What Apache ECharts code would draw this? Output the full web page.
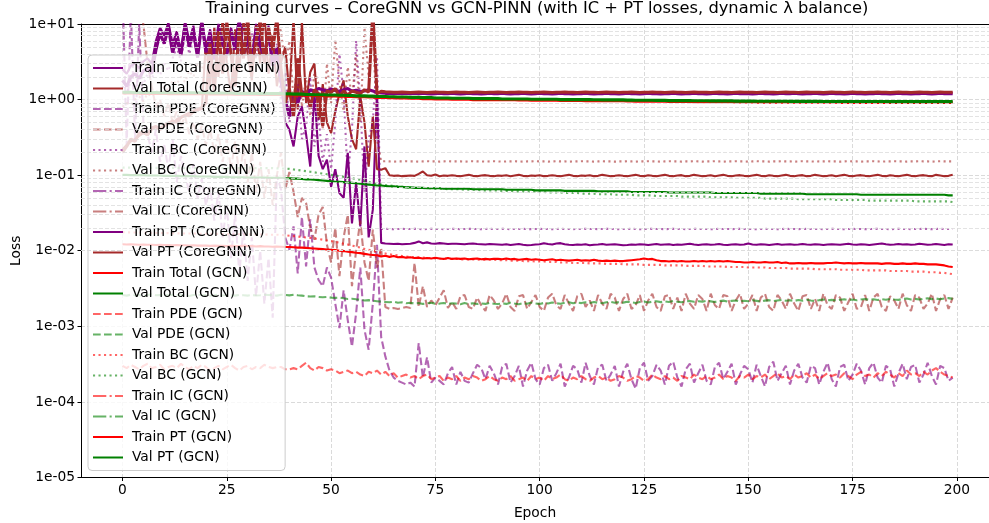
<!DOCTYPE html>
<html><head><meta charset="utf-8">
<script src="https://cdn.jsdelivr.net/npm/echarts@6/dist/echarts.min.js"></script>
<style>html,body{margin:0;padding:0;background:#fff}#c{width:989px;height:523px}</style>
</head><body><div id="c"></div>
<script>
const epochs = Array.from({length:200},(_,i)=>i);
const xTicks = [0,25,50,75,100,125,150,175,200];
const yTickLabels = ['1e-05','1e-04','1e-03','1e-02','1e-01','1e+00','1e+01'];

const trainTotalCore = [
2.5,2.2,2.8,3.0,2.6,3.2,3.5,3.0,6.0,9.0,
7.0,10.5,5.5,8.0,4.5,11.0,6.0,9.5,4.0,12.0,
5.0,8.5,3.8,10.0,6.5,4.2,9.0,5.5,13.0,4.5,
8.0,3.5,10.0,6.0,4.0,9.5,3.2,5.0,1.7,0.5,
0.4,0.24,0.6,0.81,0.35,0.13,1.27,0.18,0.12,0.16,
0.07,0.12,0.058,0.05,0.2,0.023,0.08,0.021,0.24,0.015,
0.035,1.27,0.0127,0.0125,0.0124,0.0123,0.0124,0.0122,0.0123,0.0124,
0.0127,0.0133,0.0126,0.0129,0.0125,0.0124,0.0126,0.0125,0.0123,0.0124,
0.0124,0.0123,0.0122,0.0124,0.0125,0.0123,0.0122,0.0121,0.0123,0.0122,
0.0121,0.0120,0.0122,0.0119,0.0121,0.0123,0.0120,0.0118,0.0119,0.0121,
0.0122,0.0126,0.0123,0.0121,0.0125,0.0126,0.0122,0.0120,0.0119,0.0121,
0.0120,0.0122,0.0118,0.0120,0.0121,0.0123,0.0120,0.0121,0.0122,0.0120,
0.0118,0.0119,0.0121,0.0120,0.0122,0.0121,0.0119,0.0121,0.0123,0.0120,
0.0121,0.0122,0.0119,0.0121,0.0120,0.0122,0.0124,0.0121,0.0119,0.0121,
0.0122,0.0120,0.0121,0.0123,0.0120,0.0119,0.0121,0.0122,0.0120,0.0121,
0.0125,0.0121,0.0120,0.0122,0.0121,0.0119,0.0121,0.0123,0.0120,0.0121,
0.0122,0.0120,0.0121,0.0123,0.0121,0.0120,0.0122,0.0121,0.0119,0.0121,
0.0122,0.0121,0.0120,0.0122,0.0124,0.0121,0.0120,0.0122,0.0121,0.0119,
0.0121,0.0123,0.0125,0.0122,0.0120,0.0121,0.0123,0.0121,0.0122,0.0120,
0.0121,0.0124,0.0122,0.0120,0.0121,0.0123,0.0121,0.0119,0.0122,0.0121];

const valTotalCore = [
0.22,0.25,0.28,0.3,0.33,0.36,0.34,0.4,0.44,0.42,
0.46,0.5,0.48,0.55,0.58,0.62,0.6,0.68,0.72,0.75,
6.0,1.5,9.0,2.0,12.0,3.0,1.2,8.5,2.5,11.0,
4.0,1.8,9.5,3.0,14.0,2.2,7.0,1.5,3.1,5.0,
1.2,12.0,0.74,11.0,0.9,2.3,3.0,0.54,1.6,0.5,
0.36,0.7,1.2,1.8,0.6,0.3,0.22,1.1,0.5,0.13,
0.6,0.12,0.118,0.124,0.100,0.098,0.099,0.097,0.098,0.099,
0.098,0.104,0.112,0.100,0.098,0.102,0.097,0.099,0.098,0.100,
0.098,0.097,0.099,0.101,0.098,0.097,0.099,0.100,0.098,0.097,
0.099,0.098,0.100,0.097,0.099,0.101,0.098,0.097,0.099,0.098,
0.100,0.097,0.098,0.100,0.098,0.097,0.099,0.101,0.098,0.097,
0.099,0.098,0.100,0.097,0.098,0.101,0.099,0.097,0.098,0.100,
0.098,0.097,0.099,0.101,0.098,0.097,0.100,0.098,0.097,0.099,
0.101,0.098,0.097,0.099,0.100,0.097,0.098,0.101,0.099,0.097,
0.098,0.100,0.097,0.099,0.101,0.098,0.097,0.099,0.100,0.098,
0.097,0.099,0.101,0.098,0.097,0.100,0.098,0.097,0.099,0.101,
0.098,0.097,0.099,0.100,0.097,0.098,0.101,0.099,0.097,0.098,
0.100,0.097,0.099,0.101,0.098,0.097,0.099,0.100,0.098,0.097,
0.099,0.101,0.098,0.097,0.100,0.098,0.097,0.099,0.101,0.098,
0.097,0.099,0.100,0.098,0.097,0.101,0.099,0.097,0.098,0.101];

const trainPDECore = [
30,0.25,15,0.3,10,0.5,0.35,0.2,0.4,0.15,
0.25,0.12,0.3,0.08,0.18,0.1,0.06,0.14,0.05,0.09,
0.04,0.07,0.025,0.06,0.015,0.04,0.008,0.03,0.005,0.02,
0.004,0.015,0.0025,0.01,0.002,0.008,0.0013,0.1,0.064,0.015,
0.0103,0.021,0.005,0.028,0.0062,0.026,0.006,0.0041,0.0034,0.006,
4.4e-3,2e-3,9.5e-4,3e-3,1.2e-3,5.4e-4,1.5e-3,6e-3,9e-4,4.9e-4,
2e-3,0.012,7.2e-4,4e-4,2.6e-4,2.1e-4,1.9e-4,1.8e-4,1.7e-4,1.8e-4,
1.6e-4,6e-4,2.1e-4,3.9e-4,1.8e-4,2.1e-4,1.9e-4,1.7e-4,2.4e-4,2.9e-4,
1.7e-4,2.5e-4,1.9e-4,1.8e-4,2.4e-4,3.1e-4,2.8e-4,2e-4,3e-4,2.4e-4,
1.7e-4,2.9e-4,3.2e-4,1.8e-4,2.2e-4,3e-4,1.6e-4,2.6e-4,3.3e-4,2e-4,
1.7e-4,2.8e-4,3.1e-4,1.9e-4,2.4e-4,3.2e-4,1.6e-4,2.1e-4,3e-4,2.7e-4,
1.8e-4,3.3e-4,2.2e-4,1.7e-4,2.9e-4,3.1e-4,1.9e-4,2.3e-4,3e-4,1.6e-4,
2.5e-4,3.2e-4,2e-4,1.5e-4,2.8e-4,3.3e-4,1.9e-4,2.2e-4,3.1e-4,2.6e-4,
1.7e-4,3e-4,3.4e-4,2.1e-4,1.6e-4,2.7e-4,3.2e-4,1.8e-4,2.4e-4,3.1e-4,
1.9e-4,1.7e-4,2.9e-4,3.3e-4,2e-4,2.5e-4,3.2e-4,1.7e-4,2.3e-4,3e-4,
2.7e-4,1.8e-4,3.1e-4,2.2e-4,1.6e-4,2.9e-4,3.4e-4,1.9e-4,2.4e-4,3e-4,
1.7e-4,2.6e-4,3.2e-4,2.1e-4,1.8e-4,3e-4,2.8e-4,1.7e-4,2.5e-4,3.3e-4,
2e-4,1.6e-4,2.9e-4,3.1e-4,1.9e-4,2.3e-4,3.2e-4,2.6e-4,1.7e-4,2.8e-4,
3.3e-4,2.1e-4,1.8e-4,3e-4,2.7e-4,1.6e-4,2.4e-4,3.2e-4,2e-4,2.9e-4,
3.1e-4,1.8e-4,2.3e-4,3.3e-4,2.2e-4,1.7e-4,3e-4,2.8e-4,1.9e-4,2.1e-4];

const valPDECore = [
40,30,25,20,15,10,3.0,1.5,0.8,1.0,
0.6,0.9,0.5,0.7,0.45,0.6,0.35,0.5,0.3,0.45,
0.25,0.4,0.2,0.35,0.15,0.3,0.12,0.28,0.1,0.22,
0.08,0.2,0.06,0.15,0.05,0.12,0.04,0.1,0.2,0.064,
0.11,0.06,0.028,0.05,0.043,0.02,0.014,0.03,0.038,0.012,
0.007,0.02,0.0046,0.015,0.03,0.0034,0.01,0.025,0.007,0.004,
0.019,0.006,0.011,1.8e-3,1.7e-3,1.75e-3,1.7e-3,1.75e-3,1.8e-3,1.75e-3,
6.9e-3,1.8e-3,3.4e-3,1.8e-3,2.2e-3,1.9e-3,2.4e-3,3e-3,1.75e-3,2.1e-3,
1.7e-3,2.5e-3,2.6e-3,1.8e-3,1.7e-3,2.4e-3,1.9e-3,1.6e-3,2.6e-3,2.2e-3,
1.7e-3,2e-3,2.7e-3,1.8e-3,1.6e-3,2.5e-3,2.6e-3,1.7e-3,2.1e-3,2.6e-3,
1.8e-3,1.6e-3,2.4e-3,2.7e-3,1.9e-3,1.7e-3,2.6e-3,2e-3,1.6e-3,2.5e-3,
2.7e-3,1.8e-3,2.2e-3,1.6e-3,2.6e-3,2e-3,1.7e-3,2.7e-3,2.4e-3,1.6e-3,
2.3e-3,2.7e-3,1.7e-3,1.9e-3,2.6e-3,1.6e-3,2.2e-3,2.7e-3,1.8e-3,1.6e-3,
2.5e-3,2.6e-3,1.7e-3,2.4e-3,1.6e-3,2.7e-3,2e-3,1.7e-3,2.6e-3,2.3e-3,
1.6e-3,2.7e-3,1.9e-3,1.7e-3,2.6e-3,2.5e-3,1.6e-3,2.2e-3,2.7e-3,1.7e-3,
2e-3,2.6e-3,1.6e-3,2.4e-3,2.7e-3,1.8e-3,1.6e-3,2.6e-3,2.2e-3,1.7e-3,
2.7e-3,2e-3,1.6e-3,2.5e-3,2.6e-3,1.7e-3,2.3e-3,1.6e-3,2.7e-3,1.9e-3,
1.7e-3,2.6e-3,2.4e-3,1.6e-3,2.1e-3,2.7e-3,1.7e-3,1.8e-3,2.6e-3,1.6e-3,
2.4e-3,2.7e-3,1.8e-3,1.6e-3,2.5e-3,2.2e-3,1.7e-3,2.7e-3,1.9e-3,1.6e-3,
2.6e-3,2.4e-3,1.7e-3,2e-3,2.7e-3,1.6e-3,2.3e-3,2.6e-3,1.7e-3,2.4e-3];

const trainBCCore = [
1.5,1.2,1.8,1.4,2.0,1.6,2.2,1.9,2.5,2.1,
3.0,2.4,3.5,5.0,3.2,8.0,4.0,6.5,3.5,9.0,
4.5,7.0,3.6,8.5,4.8,10.0,4.2,6.8,3.8,9.5,
5.0,7.5,3.5,9.0,4.5,6.0,3.0,5.5,0.9,2.3,
0.5,0.74,1.6,0.3,0.44,2.0,0.24,0.6,0.15,0.35,
0.12,0.5,4.0,1.2,0.09,0.4,6.0,0.9,0.06,0.3,
0.5,3.7,0.0194,0.0195,0.0194,0.0193,0.0194,0.0195,0.0194,0.0194,
0.0195,0.0194,0.0193,0.0194,0.0195,0.0194,0.0194,0.0193,0.0194,0.0195,
0.0194,0.0193,0.0194,0.0195,0.0194,0.0194,0.0193,0.0194,0.0195,0.0194,
0.0194,0.0195,0.0194,0.0193,0.0194,0.0194,0.0195,0.0194,0.0193,0.0194,
0.0195,0.0194,0.0194,0.0193,0.0194,0.0195,0.0194,0.0194,0.0193,0.0194,
0.0194,0.0195,0.0194,0.0194,0.0193,0.0194,0.0195,0.0194,0.0194,0.0193,
0.0194,0.0194,0.0195,0.0194,0.0193,0.0194,0.0194,0.0195,0.0194,0.0194,
0.0193,0.0194,0.0195,0.0194,0.0194,0.0193,0.0194,0.0195,0.0194,0.0194,
0.0194,0.0193,0.0194,0.0195,0.0194,0.0194,0.0193,0.0194,0.0195,0.0194,
0.0194,0.0194,0.0193,0.0194,0.0195,0.0194,0.0194,0.0193,0.0194,0.0195,
0.0194,0.0194,0.0193,0.0194,0.0195,0.0194,0.0194,0.0194,0.0193,0.0194,
0.0195,0.0194,0.0194,0.0193,0.0194,0.0195,0.0194,0.0194,0.0193,0.0194,
0.0194,0.0195,0.0194,0.0194,0.0193,0.0194,0.0195,0.0194,0.0194,0.0193,
0.0194,0.0194,0.0195,0.0194,0.0193,0.0194,0.0195,0.0194,0.0194,0.0194];

const valBCCore = [
0.8,0.9,0.85,1.0,1.1,0.95,1.2,1.1,1.3,1.2,
1.5,1.3,1.8,1.6,2.0,1.7,2.4,2.0,3.0,2.5,
3.5,2.8,5.0,3.2,6.0,3.5,8.0,4.0,9.5,5.0,
4.0,7.0,3.5,6.5,3.0,8.5,4.5,11.0,8.0,2.7,
6.0,1.0,3.5,0.8,2.0,0.6,2.4,1.6,0.4,3.0,
0.9,6.2,1.7,0.7,2.7,1.0,4.0,0.5,9.0,2.0,
12.0,0.3,0.152,0.153,0.152,0.151,0.152,0.152,0.153,0.152,
0.152,0.151,0.152,0.153,0.152,0.152,0.151,0.152,0.153,0.152,
0.152,0.152,0.151,0.152,0.153,0.152,0.152,0.151,0.152,0.153,
0.152,0.151,0.152,0.152,0.153,0.152,0.151,0.152,0.152,0.153,
0.152,0.152,0.151,0.152,0.153,0.152,0.152,0.151,0.152,0.152,
0.153,0.152,0.152,0.151,0.152,0.153,0.152,0.152,0.151,0.152,
0.152,0.153,0.152,0.151,0.152,0.152,0.153,0.152,0.152,0.151,
0.152,0.153,0.152,0.152,0.151,0.152,0.152,0.153,0.152,0.151,
0.152,0.152,0.153,0.152,0.151,0.152,0.152,0.153,0.152,0.152,
0.151,0.152,0.153,0.152,0.152,0.151,0.152,0.152,0.153,0.152,
0.152,0.151,0.152,0.153,0.152,0.152,0.151,0.152,0.152,0.153,
0.152,0.152,0.151,0.152,0.153,0.152,0.152,0.151,0.152,0.152,
0.153,0.152,0.151,0.152,0.152,0.153,0.152,0.152,0.151,0.152,
0.152,0.153,0.152,0.152,0.151,0.152,0.153,0.152,0.152,0.152];

const trainICCore = [];
const valICCore = [];

const trainPTCore = [
1.8,1.5,2.0,2.2,1.9,2.4,2.6,2.2,4.5,7.5,
5.5,9.0,4.2,6.5,3.8,9.5,5.0,8.0,3.6,10.5,
4.2,7.0,3.4,8.5,5.5,3.9,7.5,4.6,11.0,3.8,
6.8,3.2,8.5,5.2,3.5,8.0,2.8,4.2,1.7,1.0,
0.6,1.2,0.9,1.3,1.1,1.35,1.3,1.4,1.35,1.3,
1.38,1.32,1.28,1.35,1.4,1.3,1.33,1.28,1.3,1.35,
1.3,1.25,1.22,1.21,1.21,1.2,1.21,1.2,1.21,1.2,
1.21,1.20,1.21,1.20,1.19,1.20,1.21,1.20,1.20,1.21,
1.20,1.19,1.20,1.21,1.20,1.20,1.19,1.20,1.21,1.20,
1.20,1.21,1.20,1.19,1.20,1.20,1.21,1.20,1.19,1.20,
1.21,1.20,1.20,1.19,1.20,1.21,1.20,1.20,1.19,1.20,
1.20,1.21,1.20,1.19,1.20,1.20,1.21,1.20,1.20,1.19,
1.20,1.21,1.20,1.20,1.19,1.20,1.21,1.20,1.20,1.19,
1.20,1.20,1.21,1.20,1.19,1.20,1.20,1.21,1.20,1.20,
1.19,1.20,1.21,1.20,1.20,1.19,1.20,1.21,1.20,1.20,
1.20,1.19,1.20,1.21,1.20,1.20,1.19,1.20,1.21,1.20,
1.20,1.21,1.20,1.19,1.20,1.20,1.21,1.20,1.19,1.20,
1.21,1.20,1.20,1.19,1.20,1.21,1.20,1.20,1.19,1.20,
1.20,1.21,1.20,1.20,1.19,1.20,1.21,1.20,1.20,1.19,
1.20,1.20,1.21,1.20,1.19,1.20,1.21,1.20,1.20,1.20];

const valPTCore = [
0.2,0.24,0.3,0.28,0.36,0.37,0.34,0.42,0.44,0.4,
0.45,0.48,0.52,0.5,0.58,0.62,0.66,0.7,0.74,0.78,
0.9,5.5,1.3,8.0,2.2,10.5,4.0,1.5,9.0,3.5,
12.0,2.5,6.0,11.0,3.0,9.0,4.5,12.0,2.5,0.9,
1.4,0.6,3.5,1.1,1.3,0.8,1.35,1.2,0.45,1.3,
1.25,1.4,1.1,1.3,1.15,1.3,1.25,1.2,1.35,1.25,
15.0,1.2,1.29,1.27,1.26,1.25,1.25,1.26,1.25,1.24,
1.25,1.26,1.25,1.24,1.25,1.26,1.25,1.25,1.24,1.25,
1.26,1.25,1.25,1.24,1.25,1.26,1.25,1.24,1.25,1.25,
1.26,1.25,1.24,1.25,1.25,1.26,1.25,1.25,1.24,1.25,
1.25,1.26,1.25,1.24,1.25,1.25,1.26,1.25,1.25,1.24,
1.25,1.26,1.25,1.25,1.24,1.25,1.26,1.25,1.25,1.24,
1.25,1.25,1.26,1.25,1.24,1.25,1.25,1.26,1.25,1.25,
1.24,1.25,1.26,1.25,1.25,1.24,1.25,1.26,1.25,1.25,
1.25,1.24,1.25,1.26,1.25,1.25,1.24,1.25,1.26,1.25,
1.25,1.25,1.24,1.25,1.26,1.25,1.25,1.24,1.25,1.26,
1.25,1.25,1.24,1.25,1.26,1.25,1.25,1.25,1.24,1.25,
1.26,1.25,1.25,1.24,1.25,1.26,1.25,1.25,1.24,1.25,
1.25,1.26,1.25,1.25,1.24,1.25,1.26,1.25,1.25,1.24,
1.25,1.26,1.25,1.25,1.24,1.25,1.26,1.25,1.25,1.25];

const trainTotalGCN = [
0.0122,0.0121,0.0122,0.0121,0.0120,0.0121,0.0120,0.0120,0.0119,0.0120,
0.0119,0.0119,0.0118,0.0119,0.0118,0.0118,0.0117,0.0118,0.0117,0.0117,
0.0117,0.0116,0.0117,0.0116,0.0116,0.0115,0.0116,0.0115,0.0115,0.0116,
0.0115,0.0115,0.0114,0.0115,0.0114,0.0114,0.0113,0.0114,0.0113,0.0112,
0.0112,0.0111,0.0110,0.0110,0.0109,0.0108,0.0107,0.0106,0.0105,0.0104,
0.0103,0.0102,0.0100,0.0099,0.0097,0.0096,0.0094,0.0093,0.0091,0.0089,
0.0088,0.0087,0.0084,0.0086,0.0083,0.0085,0.0082,0.0083,0.0081,0.0082,
0.0080,0.0081,0.0079,0.0080,0.0079,0.0081,0.0079,0.0078,0.0080,0.0078,
0.0079,0.0078,0.0079,0.0077,0.0078,0.0079,0.0077,0.0078,0.0077,0.0078,
0.0078,0.0077,0.0079,0.0077,0.0078,0.0076,0.0077,0.0078,0.0076,0.0077,
0.0076,0.0075,0.0076,0.0077,0.0075,0.0076,0.0075,0.0074,0.0075,0.0076,
0.0074,0.0075,0.0074,0.0076,0.0074,0.0073,0.0074,0.0073,0.0074,0.0073,
0.0073,0.0074,0.0075,0.0076,0.0077,0.0079,0.0077,0.0078,0.0075,0.0073,
0.0073,0.0072,0.0073,0.0072,0.0073,0.0072,0.0072,0.0073,0.0072,0.0073,
0.0072,0.0073,0.0072,0.0073,0.0072,0.0073,0.0072,0.0071,0.0071,0.0070,
0.0070,0.0071,0.0070,0.0070,0.0071,0.0070,0.0070,0.0071,0.0069,0.0070,
0.0068,0.0068,0.0069,0.0068,0.0068,0.0069,0.0068,0.0068,0.0068,0.0069,
0.0069,0.0070,0.0069,0.0068,0.0069,0.0068,0.0068,0.0069,0.0068,0.0068,
0.0068,0.0068,0.0067,0.0068,0.0068,0.0067,0.0067,0.0068,0.0067,0.0067,
0.0068,0.0067,0.0067,0.0066,0.0066,0.0066,0.0065,0.0064,0.0062,0.0061];

const valTotalGCN = [
0.101,0.101,0.100,0.100,0.100,0.100,0.099,0.099,0.099,0.099,
0.098,0.098,0.098,0.098,0.097,0.097,0.097,0.097,0.096,0.096,
0.096,0.096,0.095,0.095,0.095,0.095,0.094,0.094,0.094,0.094,
0.093,0.093,0.093,0.093,0.093,0.092,0.092,0.092,0.092,0.091,
0.091,0.090,0.090,0.089,0.088,0.088,0.087,0.086,0.085,0.084,
0.083,0.082,0.082,0.081,0.080,0.079,0.078,0.077,0.076,0.075,
0.074,0.073,0.073,0.072,0.071,0.071,0.070,0.070,0.069,0.069,
0.068,0.068,0.068,0.067,0.067,0.067,0.067,0.066,0.066,0.066,
0.066,0.066,0.066,0.066,0.065,0.065,0.065,0.065,0.065,0.065,
0.065,0.065,0.064,0.064,0.064,0.064,0.064,0.064,0.064,0.063,
0.063,0.063,0.063,0.063,0.063,0.063,0.062,0.062,0.062,0.062,
0.062,0.062,0.062,0.062,0.061,0.061,0.061,0.061,0.061,0.061,
0.061,0.061,0.060,0.060,0.060,0.060,0.060,0.060,0.060,0.060,
0.060,0.059,0.059,0.059,0.059,0.059,0.059,0.059,0.059,0.059,
0.059,0.059,0.058,0.058,0.058,0.058,0.058,0.058,0.058,0.058,
0.058,0.058,0.058,0.057,0.057,0.057,0.057,0.057,0.057,0.057,
0.057,0.057,0.057,0.057,0.056,0.056,0.056,0.056,0.056,0.056,
0.056,0.056,0.056,0.056,0.056,0.056,0.056,0.055,0.055,0.055,
0.055,0.055,0.055,0.055,0.055,0.055,0.055,0.055,0.055,0.055,
0.055,0.055,0.055,0.055,0.055,0.055,0.055,0.055,0.054,0.054];

const trainPDEGCN = [
3.0e-4,2.8e-4,3.1e-4,2.9e-4,2.7e-4,3.0e-4,3.2e-4,2.8e-4,2.9e-4,3.1e-4,
2.7e-4,2.9e-4,3.0e-4,2.8e-4,3.2e-4,2.9e-4,2.7e-4,3.0e-4,2.8e-4,3.1e-4,
2.9e-4,2.6e-4,2.8e-4,3.0e-4,2.7e-4,2.9e-4,3.1e-4,2.8e-4,2.6e-4,2.9e-4,
3.0e-4,2.7e-4,2.9e-4,2.8e-4,3.1e-4,2.9e-4,2.8e-4,2.9e-4,2.9e-4,2.7e-4,
2.7e-4,2.8e-4,2.7e-4,3.0e-4,3.3e-4,2.8e-4,2.6e-4,2.9e-4,2.8e-4,2.6e-4,
2.7e-4,2.6e-4,2.4e-4,2.5e-4,2.6e-4,2.4e-4,2.5e-4,2.3e-4,2.2e-4,2.5e-4,
2.4e-4,2.6e-4,2.3e-4,2.5e-4,2.2e-4,2.4e-4,2.1e-4,2.2e-4,2.3e-4,2.1e-4,
2.2e-4,2.0e-4,2.2e-4,2.3e-4,2.0e-4,2.1e-4,2.2e-4,1.9e-4,2.1e-4,2.0e-4,
2.2e-4,1.9e-4,2.1e-4,2.0e-4,2.2e-4,2.1e-4,1.9e-4,2.0e-4,2.2e-4,2.0e-4,
1.9e-4,2.1e-4,2.0e-4,2.2e-4,1.9e-4,2.0e-4,2.1e-4,1.9e-4,2.2e-4,2.0e-4,
2.1e-4,1.9e-4,2.2e-4,2.0e-4,2.1e-4,2.3e-4,2.0e-4,1.9e-4,2.1e-4,2.0e-4,
2.2e-4,2.0e-4,1.9e-4,2.1e-4,2.2e-4,2.0e-4,2.1e-4,1.9e-4,2.0e-4,2.2e-4,
2.1e-4,1.9e-4,2.0e-4,2.2e-4,2.1e-4,1.9e-4,2.0e-4,2.3e-4,2.1e-4,2.0e-4,
2.2e-4,2.0e-4,2.1e-4,1.9e-4,2.2e-4,2.1e-4,2.0e-4,2.3e-4,2.1e-4,2.0e-4,
2.2e-4,2.0e-4,2.1e-4,2.3e-4,2.0e-4,2.2e-4,2.1e-4,1.9e-4,2.2e-4,2.1e-4,
2.3e-4,2.0e-4,2.2e-4,2.1e-4,2.3e-4,2.0e-4,2.2e-4,2.4e-4,2.1e-4,2.2e-4,
2.0e-4,2.3e-4,2.1e-4,2.2e-4,2.4e-4,2.1e-4,2.3e-4,2.0e-4,2.2e-4,2.4e-4,
2.2e-4,2.3e-4,2.1e-4,2.4e-4,2.2e-4,2.0e-4,2.3e-4,2.5e-4,2.2e-4,2.3e-4,
2.1e-4,2.4e-4,2.2e-4,2.5e-4,2.3e-4,2.1e-4,2.4e-4,2.2e-4,2.6e-4,2.3e-4,
2.4e-4,2.2e-4,2.5e-4,2.3e-4,2.6e-4,2.8e-4,2.5e-4,2.3e-4,2.2e-4,2.1e-4];

const valPDEGCN = [
2.6e-3,2.55e-3,2.62e-3,2.58e-3,2.6e-3,2.52e-3,2.6e-3,2.65e-3,2.58e-3,2.6e-3,
2.55e-3,2.6e-3,2.62e-3,2.56e-3,2.6e-3,2.58e-3,2.52e-3,2.6e-3,2.63e-3,2.58e-3,
2.6e-3,2.55e-3,2.58e-3,2.62e-3,2.56e-3,2.6e-3,2.57e-3,2.55e-3,2.6e-3,2.58e-3,
2.55e-3,2.6e-3,2.56e-3,2.58e-3,2.62e-3,2.6e-3,2.58e-3,2.55e-3,2.62e-3,2.6e-3,
2.57e-3,2.62e-3,2.58e-3,2.55e-3,2.5e-3,2.48e-3,2.5e-3,2.45e-3,2.42e-3,2.45e-3,
2.4e-3,2.38e-3,2.4e-3,2.35e-3,2.3e-3,2.32e-3,2.28e-3,2.25e-3,2.2e-3,2.22e-3,
2.18e-3,2.15e-3,2.12e-3,2.1e-3,2.08e-3,2.12e-3,2.05e-3,2.08e-3,2.02e-3,2.05e-3,
2.0e-3,2.03e-3,1.98e-3,2.02e-3,2.05e-3,1.98e-3,2.0e-3,2.04e-3,1.97e-3,2.02e-3,
2.0e-3,1.96e-3,2.03e-3,1.98e-3,2.02e-3,1.97e-3,2.01e-3,1.98e-3,2.04e-3,1.99e-3,
1.97e-3,2.02e-3,1.98e-3,2.05e-3,2.0e-3,1.96e-3,2.03e-3,1.99e-3,2.06e-3,2.01e-3,
1.98e-3,2.04e-3,2.0e-3,2.07e-3,2.02e-3,1.99e-3,2.05e-3,2.08e-3,2.02e-3,2.06e-3,
2.03e-3,2.08e-3,2.04e-3,2.1e-3,2.05e-3,2.02e-3,2.08e-3,2.11e-3,2.05e-3,2.09e-3,
2.06e-3,2.12e-3,2.08e-3,2.04e-3,2.1e-3,2.13e-3,2.07e-3,2.12e-3,2.15e-3,2.09e-3,
2.13e-3,2.1e-3,2.16e-3,2.12e-3,2.08e-3,2.14e-3,2.17e-3,2.11e-3,2.15e-3,2.12e-3,
2.18e-3,2.14e-3,2.1e-3,2.16e-3,2.19e-3,2.13e-3,2.17e-3,2.2e-3,2.14e-3,2.18e-3,
2.15e-3,2.21e-3,2.17e-3,2.13e-3,2.19e-3,2.22e-3,2.16e-3,2.2e-3,2.24e-3,2.18e-3,
2.21e-3,2.17e-3,2.23e-3,2.19e-3,2.25e-3,2.2e-3,2.16e-3,2.22e-3,2.26e-3,2.21e-3,
2.24e-3,2.19e-3,2.25e-3,2.28e-3,2.22e-3,2.26e-3,2.21e-3,2.27e-3,2.3e-3,2.24e-3,
2.28e-3,2.23e-3,2.29e-3,2.25e-3,2.31e-3,2.27e-3,2.24e-3,2.3e-3,2.33e-3,2.27e-3,
2.31e-3,2.26e-3,2.32e-3,2.35e-3,2.29e-3,2.33e-3,2.28e-3,2.34e-3,2.36e-3,2.31e-3];

const trainBCGCN = [
0.0176,0.0175,0.0175,0.0174,0.0174,0.0173,0.0173,0.0172,0.0172,0.0172,
0.0171,0.0171,0.0170,0.0170,0.0170,0.0169,0.0169,0.0169,0.0168,0.0168,
0.0168,0.0167,0.0167,0.0167,0.0166,0.0166,0.0166,0.0165,0.0165,0.0165,
0.0165,0.0164,0.0164,0.0164,0.0164,0.0163,0.0163,0.0163,0.0162,0.0160,
0.0158,0.0156,0.0154,0.0152,0.0150,0.0148,0.0145,0.0143,0.0140,0.0137,
0.0134,0.0131,0.0128,0.0124,0.0121,0.0117,0.0114,0.0110,0.0106,0.0103,
0.0100,0.0097,0.0094,0.0092,0.0090,0.0088,0.0087,0.0085,0.0084,0.0083,
0.0082,0.0081,0.0081,0.0080,0.0080,0.0079,0.0079,0.0079,0.0078,0.0078,
0.0078,0.0077,0.0077,0.0077,0.0077,0.0076,0.0076,0.0076,0.0076,0.0076,
0.0075,0.0075,0.0075,0.0074,0.0074,0.0074,0.0073,0.0073,0.0073,0.0072,
0.0072,0.0072,0.0071,0.0071,0.0071,0.0070,0.0070,0.0070,0.0069,0.0069,
0.0069,0.0069,0.0068,0.0068,0.0068,0.0068,0.0067,0.0067,0.0067,0.0067,
0.0066,0.0066,0.0066,0.0066,0.0066,0.0065,0.0065,0.0065,0.0065,0.0065,
0.0064,0.0064,0.0064,0.0064,0.0064,0.0063,0.0063,0.0063,0.0063,0.0063,
0.0062,0.0062,0.0062,0.0062,0.0062,0.0061,0.0061,0.0061,0.0061,0.0061,
0.0060,0.0060,0.0060,0.0060,0.0060,0.0059,0.0059,0.0059,0.0059,0.0059,
0.0058,0.0058,0.0058,0.0058,0.0058,0.0058,0.0057,0.0057,0.0057,0.0057,
0.0057,0.0057,0.0056,0.0056,0.0056,0.0056,0.0056,0.0056,0.0055,0.0055,
0.0055,0.0055,0.0055,0.0055,0.0054,0.0054,0.0054,0.0054,0.0054,0.0053,
0.0053,0.0053,0.0053,0.0052,0.0052,0.0052,0.0051,0.0051,0.0050,0.0049];

const valBCGCN = [
0.126,0.126,0.126,0.125,0.125,0.125,0.125,0.125,0.125,0.125,
0.125,0.125,0.125,0.125,0.125,0.124,0.124,0.124,0.124,0.124,
0.124,0.124,0.124,0.124,0.124,0.124,0.124,0.124,0.124,0.124,
0.124,0.124,0.124,0.124,0.124,0.124,0.124,0.123,0.123,0.122,
0.121,0.119,0.117,0.115,0.113,0.111,0.109,0.107,0.105,0.103,
0.101,0.099,0.097,0.095,0.093,0.091,0.089,0.087,0.084,0.081,
0.079,0.077,0.075,0.074,0.073,0.072,0.071,0.070,0.069,0.069,
0.068,0.068,0.067,0.067,0.067,0.066,0.066,0.066,0.065,0.065,
0.065,0.065,0.064,0.064,0.064,0.064,0.063,0.063,0.063,0.063,
0.063,0.062,0.062,0.062,0.061,0.061,0.061,0.061,0.060,0.060,
0.060,0.060,0.059,0.059,0.059,0.059,0.058,0.058,0.058,0.058,
0.057,0.057,0.057,0.057,0.056,0.056,0.056,0.056,0.055,0.055,
0.055,0.055,0.055,0.054,0.054,0.054,0.054,0.054,0.053,0.053,
0.053,0.053,0.053,0.053,0.052,0.052,0.052,0.052,0.052,0.052,
0.052,0.051,0.051,0.051,0.051,0.051,0.051,0.050,0.050,0.050,
0.050,0.050,0.050,0.050,0.049,0.049,0.049,0.049,0.049,0.049,
0.049,0.049,0.048,0.048,0.048,0.048,0.048,0.048,0.048,0.048,
0.048,0.047,0.047,0.047,0.047,0.047,0.047,0.047,0.047,0.046,
0.046,0.046,0.046,0.046,0.046,0.046,0.046,0.046,0.046,0.046,
0.045,0.045,0.045,0.045,0.045,0.045,0.045,0.045,0.045,0.044];

const trainICGCN = [];
const valICGCN = [];

const trainPTGCN = [
1.22,1.22,1.22,1.22,1.21,1.21,1.21,1.21,1.21,1.21,
1.21,1.20,1.20,1.20,1.20,1.20,1.20,1.20,1.20,1.20,
1.20,1.19,1.19,1.19,1.19,1.19,1.19,1.18,1.18,1.18,
1.18,1.18,1.18,1.17,1.17,1.17,1.17,1.17,1.17,1.16,
1.16,1.15,1.15,1.15,1.14,1.14,1.13,1.13,1.13,1.12,
1.12,1.12,1.11,1.11,1.10,1.10,1.09,1.09,1.09,1.08,
1.08,1.07,1.07,1.07,1.06,1.06,1.05,1.05,1.05,1.04,
1.04,1.04,1.03,1.03,1.03,1.02,1.02,1.02,1.02,1.01,
1.01,1.01,1.01,1.01,1.00,1.00,1.00,1.00,1.00,1.00,
1.00,0.995,0.995,0.995,0.995,0.99,0.99,0.99,0.985,0.985,
0.985,0.985,0.985,0.98,0.98,0.975,0.975,0.975,0.975,0.975,
0.975,0.97,0.97,0.97,0.97,0.965,0.965,0.965,0.965,0.965,
0.965,0.96,0.96,0.955,0.955,0.955,0.955,0.955,0.95,0.95,
0.95,0.945,0.945,0.945,0.945,0.945,0.945,0.94,0.94,0.94,
0.94,0.935,0.935,0.935,0.935,0.935,0.935,0.93,0.93,0.93,
0.93,0.93,0.925,0.925,0.925,0.925,0.925,0.925,0.925,0.925,
0.923,0.923,0.923,0.923,0.921,0.921,0.921,0.921,0.92,0.92,
0.92,0.92,0.919,0.919,0.919,0.919,0.918,0.918,0.918,0.918,
0.917,0.917,0.917,0.917,0.916,0.916,0.916,0.916,0.915,0.915,
0.915,0.915,0.915,0.915,0.915,0.915,0.915,0.915,0.914,0.914];

const valPTGCN = [
1.25,1.25,1.25,1.24,1.24,1.24,1.24,1.24,1.24,1.23,
1.23,1.23,1.23,1.23,1.23,1.23,1.23,1.23,1.23,1.23,
1.23,1.22,1.22,1.22,1.22,1.22,1.22,1.21,1.21,1.21,
1.21,1.21,1.21,1.20,1.20,1.20,1.20,1.20,1.20,1.19,
1.19,1.18,1.18,1.18,1.17,1.17,1.16,1.16,1.16,1.15,
1.15,1.15,1.14,1.14,1.13,1.13,1.12,1.12,1.12,1.11,
1.11,1.10,1.10,1.10,1.09,1.09,1.08,1.08,1.08,1.07,
1.07,1.07,1.06,1.06,1.06,1.05,1.05,1.05,1.05,1.04,
1.04,1.04,1.04,1.04,1.03,1.03,1.03,1.03,1.03,1.03,
1.03,1.02,1.02,1.02,1.02,1.02,1.02,1.02,1.01,1.01,
1.01,1.01,1.01,1.01,1.01,1.00,1.00,1.00,1.00,1.00,
1.00,1.00,1.00,0.995,0.995,0.99,0.99,0.99,0.99,0.99,
0.99,0.985,0.985,0.98,0.98,0.98,0.98,0.98,0.975,0.975,
0.975,0.97,0.97,0.97,0.97,0.97,0.97,0.965,0.965,0.965,
0.965,0.96,0.96,0.96,0.96,0.96,0.96,0.955,0.955,0.955,
0.955,0.955,0.95,0.95,0.95,0.95,0.95,0.95,0.95,0.95,
0.948,0.948,0.948,0.948,0.946,0.946,0.946,0.946,0.945,0.945,
0.945,0.945,0.944,0.944,0.944,0.944,0.943,0.943,0.943,0.943,
0.942,0.942,0.942,0.942,0.941,0.941,0.941,0.941,0.94,0.94,
0.94,0.94,0.94,0.94,0.94,0.94,0.94,0.94,0.94,0.94];

const PURPLE='#800080', BROWN='#a52a2a', RED='#ff0000', GREEN='#008000';
const DASH=[7.7,3.3], DOT=[2.1,3.4], DASHDOT=[13.3,3.3,2.1,3.3];
const W=2.1, WPT=3.1;
const defs = [
 ['Train Total (CoreGNN)', trainTotalCore, PURPLE,'solid',W,1],
 ['Val Total (CoreGNN)',   valTotalCore,   BROWN, 'solid',W,1],
 ['Train PDE (CoreGNN)',   trainPDECore,   PURPLE,DASH,W,0.6],
 ['Val PDE (CoreGNN)',     valPDECore,     BROWN, DASH,W,0.6],
 ['Train BC (CoreGNN)',    trainBCCore,    PURPLE,DOT,W,0.6],
 ['Val BC (CoreGNN)',      valBCCore,      BROWN, DOT,W,0.6],
 ['Train IC (CoreGNN)',    trainICCore,    PURPLE,DASHDOT,W,0.6],
 ['Val IC (CoreGNN)',      valICCore,      BROWN, DASHDOT,W,0.6],
 ['Train PT (CoreGNN)',    trainPTCore,    PURPLE,'solid',WPT,1],
 ['Val PT (CoreGNN)',      valPTCore,      BROWN, 'solid',WPT,1],
 ['Train Total (GCN)',     trainTotalGCN,  RED,   'solid',W,1],
 ['Val Total (GCN)',       valTotalGCN,    GREEN, 'solid',W,1],
 ['Train PDE (GCN)',       trainPDEGCN,    RED,   DASH,W,0.6],
 ['Val PDE (GCN)',         valPDEGCN,      GREEN, DASH,W,0.6],
 ['Train BC (GCN)',        trainBCGCN,     RED,   DOT,W,0.6],
 ['Val BC (GCN)',          valBCGCN,       GREEN, DOT,W,0.6],
 ['Train IC (GCN)',        trainICGCN,     RED,   DASHDOT,W,0.6],
 ['Val IC (GCN)',          valICGCN,       GREEN, DASHDOT,W,0.6],
 ['Train PT (GCN)',        trainPTGCN,     RED,   'solid',WPT,1],
 ['Val PT (GCN)',          valPTGCN,       GREEN, 'solid',WPT,1]
];

const FONT = 'DejaVu Sans';
const X_MIN = -9.95, X_MAX = 207.7;
const minorVals = [];
for (let d=-5; d<=0; d++) for (let m=2; m<=9; m++) minorVals.push(m*Math.pow(10,d));

const series = [{
  type:'line', name:'_grid', data:[], silent:true, z:0,
  markLine:{silent:true, symbol:['none','none'], label:{show:false}, animation:false,
    lineStyle:{color:'#dcdcdc', width:0.8, type:[4,2]},
    emphasis:{disabled:true},
    data: minorVals.map(v=>({yAxis:v}))}
}];
defs.forEach(d=>{
  series.push({
    type:'line', name:d[0],
    data: d[1].map((v,i)=>[epochs[i], v]),
    showSymbol:false, symbol:'none', clip:true, z:2,
    lineStyle:{color:d[2], type:d[3], width:d[4], opacity:d[5], cap:'butt'},
    itemStyle:{color:d[2], opacity:d[5]},
    emphasis:{disabled:true}
  });
});

const chart = echarts.init(document.getElementById('c'), null, {renderer:'canvas'});
chart.setOption({
  animation:false,
  backgroundColor:'#ffffff',
  textStyle:{fontFamily:FONT},
  title:{text:'Training curves – CoreGNN vs GCN-PINN (with IC + PT losses, dynamic λ balance)',
    left:537, top:1, textAlign:'center', padding:0,
    textStyle:{fontFamily:FONT, fontSize:16.3, fontWeight:'normal', color:'#000'}},
  grid:{left:81, top:24, right:0, bottom:45.5, containLabel:false, outerBoundsMode:'none', show:false},
  legend:{
    data: defs.map(d=>d[0]), orient:'vertical', left:88, top:55,
    selectedMode:false, itemWidth:30, itemHeight:14, itemGap:6.5,
    padding:[6,5,6,4],
    backgroundColor:'rgba(255,255,255,0.8)', borderColor:'#cccccc', borderWidth:1, borderRadius:4,
    itemStyle:{color:'rgba(0,0,0,0)', borderWidth:0, borderColor:'rgba(0,0,0,0)'},
    textStyle:{fontFamily:FONT, fontSize:13.8, color:'#000', padding:[0,0,0,4]}
  },
  xAxis:[{type:'value', min:X_MIN, max:X_MAX, position:'bottom',
    axisLine:{show:true, onZero:false, lineStyle:{color:'#000', width:1}},
    axisTick:{show:true, length:3.5, lineStyle:{color:'#000'}, customValues:xTicks},
    axisLabel:{color:'#000', fontSize:13.8, fontFamily:FONT, margin:6, customValues:xTicks},
    splitLine:{show:true, lineStyle:{color:'#d0d0d0', width:0.8, type:[4,2]}},
    name:'Epoch', nameLocation:'middle', nameGap:28.5,
    nameTextStyle:{color:'#000', fontSize:13.8, fontFamily:FONT}},
   {type:'value', min:X_MIN, max:X_MAX, position:'top',
    axisLine:{show:true, onZero:false, lineStyle:{color:'#000', width:1}},
    axisTick:{show:false}, axisLabel:{show:false}, splitLine:{show:false}}],
  yAxis:{type:'log', logBase:10, min:1e-5, max:10, splitNumber:6,
    axisLine:{show:true, onZero:false, lineStyle:{color:'#000', width:1}},
    axisTick:{show:true, length:3.5, lineStyle:{color:'#000'}},
    axisLabel:{color:'#000', fontSize:13.8, fontFamily:FONT, margin:6, align:'right',
      formatter:v=>yTickLabels[Math.round(Math.log10(v))+5]},
    splitLine:{show:true, lineStyle:{color:'#d0d0d0', width:0.8, type:[4,2]}},
    name:'Loss', nameLocation:'middle', nameGap:58, nameRotate:90, nameMoveOverlap:false,
    nameTextStyle:{color:'#000', fontSize:13.8, fontFamily:FONT}},
  series: series
});
</script></body></html>
